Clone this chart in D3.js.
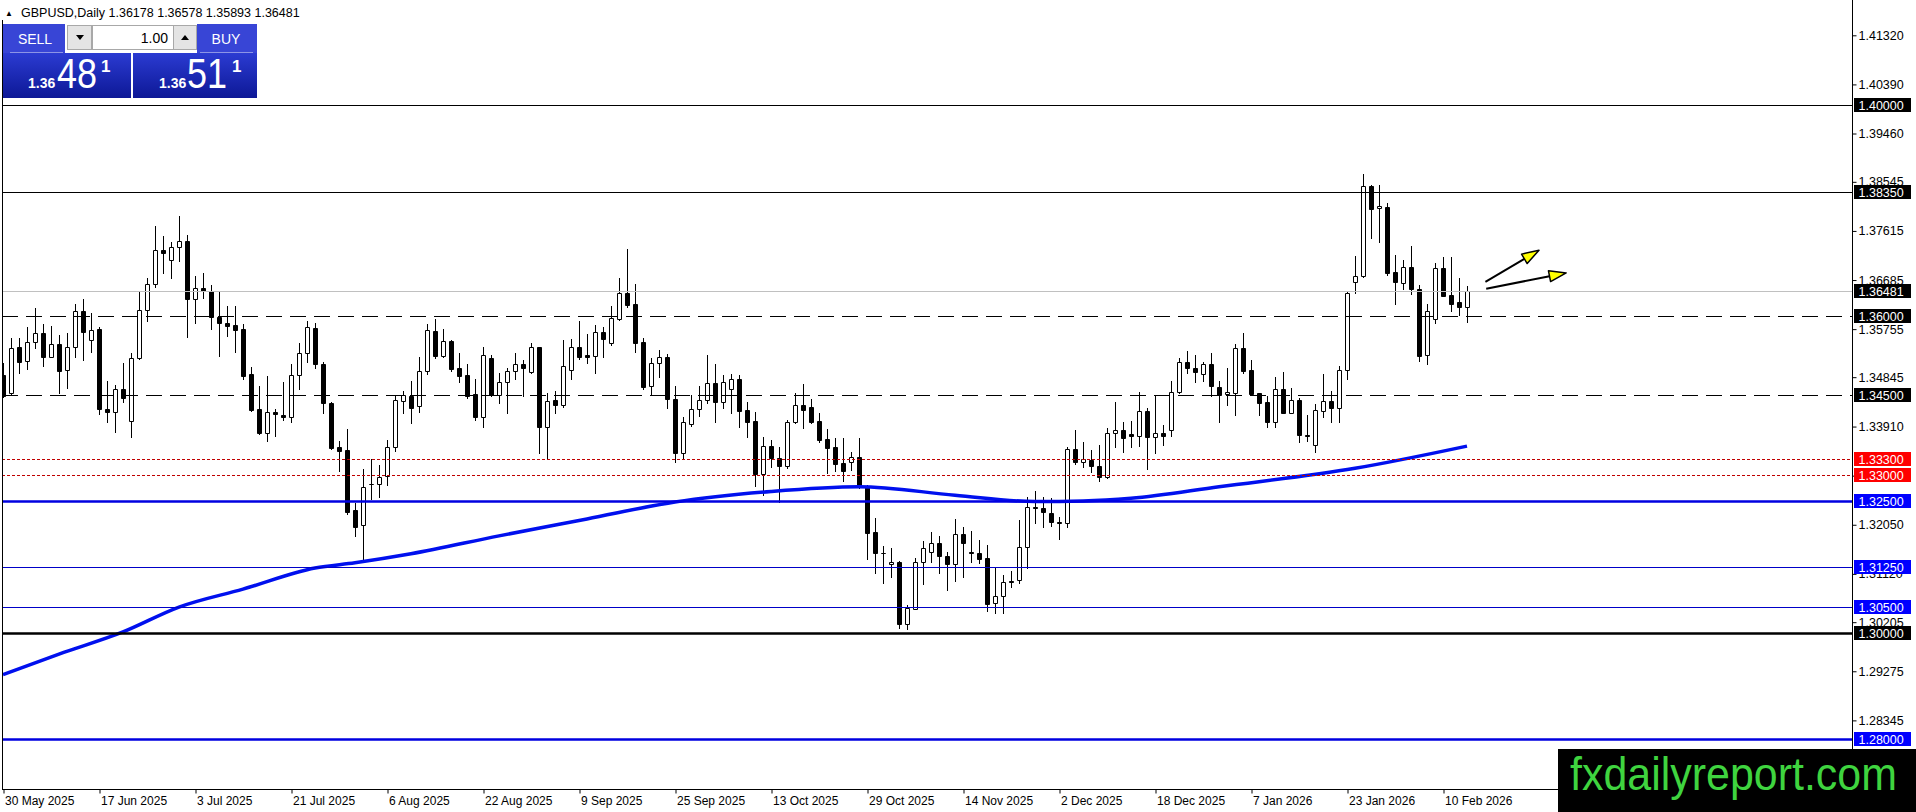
<!DOCTYPE html>
<html>
<head>
<meta charset="utf-8">
<script src="https://cdn.jsdelivr.net/npm/d3@7"></script>
<style>
html, body { margin: 0; padding: 0; background: #fff; overflow: hidden; }
svg { display: block; font-family: "Liberation Sans", Arial, sans-serif; }
</style>
</head>
<body>
<svg id="chart" width="1916" height="812"></svg>
<script>
// GBPUSD daily, MT4 style
const width = 1916;
const height = 812;

// daily bars
const opens = [1.3489,1.3454,1.3541,1.3515,1.3551,1.3568,1.3523,1.3547,1.3498,1.3541,1.3609,1.3554,1.3575,1.3424,1.3418,1.3463,1.3402,1.3520,1.3612,1.3661,
1.3725,1.3707,1.3731,1.3742,1.3632,1.3653,1.3648,1.3598,1.3588,1.3583,1.3575,1.3491,1.3424,1.3379,1.3418,1.3413,1.3410,1.3489,1.3530,1.3577,
1.3509,1.3435,1.3353,1.3347,1.3233,1.3204,1.3282,1.3282,1.3297,1.3353,1.3440,1.3449,1.3429,1.3496,1.3572,1.3525,1.3553,1.3501,1.3488,1.3452,
1.3410,1.3520,1.3450,1.3475,1.3496,1.3509,1.3495,1.3541,1.3391,1.3441,1.3431,1.3498,1.3541,1.3527,1.3525,1.3570,1.3550,1.3595,1.3643,1.3623,
1.3551,1.3467,1.3511,1.3523,1.3443,1.3340,1.3395,1.3424,1.3441,1.3473,1.3437,1.3463,1.3482,1.3422,1.3402,1.3301,1.3354,1.3331,1.3316,1.3399,
1.3432,1.3428,1.3402,1.3368,1.3353,1.3322,1.3323,1.3333,1.3277,1.3191,1.3152,1.3130,1.3135,1.3017,1.3046,1.3134,1.3154,1.3170,1.3146,1.3130,
1.3187,1.3153,1.3151,1.3142,1.3056,1.3070,1.3099,1.3100,1.3162,1.3239,1.3236,1.3227,1.3210,1.3208,1.3348,1.3323,1.3328,1.3317,1.3295,1.3378,
1.3385,1.3377,1.3374,1.3421,1.3372,1.3378,1.3385,1.3457,1.3514,1.3501,1.3490,1.3509,1.3465,1.3452,1.3454,1.3539,1.3498,1.3454,1.3437,1.3399,
1.3462,1.3417,1.3441,1.3375,1.3357,1.3421,1.3440,1.3426,1.3498,1.3664,1.3676,1.3847,1.3804,1.3806,1.3684,1.3662,1.3694,1.3651,1.3527,1.3594,
1.3691,1.3640,1.3626,1.36178];
const highs = [1.3511,1.3558,1.3558,1.3579,1.3615,1.3585,1.3581,1.3564,1.3568,1.3623,1.3632,1.3606,1.3579,1.3477,1.3470,1.3511,1.3531,1.3648,1.3672,1.3771,
1.3752,1.3741,1.3790,1.3754,1.3676,1.3681,1.3659,1.3645,1.3619,1.3619,1.3585,1.3503,1.3468,1.3487,1.3424,1.3476,1.3509,1.3549,1.3590,1.3588,
1.3513,1.3438,1.3364,1.3386,1.3246,1.3310,1.3330,1.3318,1.3366,1.3451,1.3459,1.3477,1.3522,1.3585,1.3594,1.3575,1.3554,1.3530,1.3509,1.3482,
1.3542,1.3527,1.3492,1.3501,1.3530,1.3517,1.3549,1.3542,1.3454,1.3458,1.3555,1.3556,1.3591,1.3566,1.3583,1.3579,1.3619,1.3672,1.3727,1.3661,
1.3558,1.3520,1.3536,1.3529,1.3467,1.3410,1.3451,1.3468,1.3527,1.3510,1.3489,1.3490,1.3489,1.3437,1.3419,1.3371,1.3366,1.3353,1.3404,1.3454,
1.3472,1.3443,1.3417,1.3386,1.3369,1.3369,1.3343,1.3369,1.3280,1.3217,1.3165,1.3161,1.3137,1.3053,1.3142,1.3174,1.3191,1.3183,1.3154,1.3216,
1.3200,1.3193,1.3176,1.3167,1.3124,1.3110,1.3118,1.3214,1.3257,1.3268,1.3258,1.3255,1.3220,1.3352,1.3385,1.3361,1.3347,1.3356,1.3388,1.3438,
1.3400,1.3402,1.3457,1.3426,1.3448,1.3394,1.3477,1.3520,1.3534,1.3527,1.3514,1.3530,1.3478,1.3501,1.3547,1.3568,1.3517,1.3455,1.3449,1.3484,
1.3495,1.3464,1.3445,1.3413,1.3433,1.3491,1.3459,1.3506,1.3645,1.3714,1.3869,1.3849,1.3849,1.3814,1.3715,1.3707,1.3733,1.3659,1.3623,1.3700,
1.3712,1.3712,1.3672,1.36578];
const lows = [1.3447,1.3450,1.3492,1.3500,1.3540,1.3506,1.3522,1.3455,1.3464,1.3522,1.3517,1.3533,1.3414,1.3400,1.3381,1.3438,1.3371,1.3519,1.3590,1.3655,
1.3682,1.3673,1.3705,1.3561,1.3587,1.3634,1.3575,1.3525,1.3563,1.3533,1.3481,1.3421,1.3377,1.3364,1.3374,1.3403,1.3400,1.3462,1.3514,1.3501,
1.3416,1.3348,1.3306,1.3225,1.3184,1.3141,1.3253,1.3258,1.3280,1.3345,1.3417,1.3398,1.3419,1.3491,1.3520,1.3523,1.3496,1.3476,1.3446,1.3403,
1.3390,1.3448,1.3435,1.3416,1.3482,1.3448,1.3493,1.3340,1.3332,1.3416,1.3428,1.3481,1.3518,1.3512,1.3493,1.3523,1.3546,1.3593,1.3618,1.3533,
1.3462,1.3451,1.3485,1.3426,1.3323,1.3331,1.3392,1.3411,1.3435,1.3400,1.3427,1.3416,1.3391,1.3371,1.3279,1.3261,1.3314,1.3248,1.3313,1.3397,
1.3389,1.3397,1.3362,1.3303,1.3307,1.3287,1.3309,1.3275,1.3140,1.3114,1.3095,1.3107,1.3009,1.3008,1.3045,1.3093,1.3135,1.3114,1.3082,1.3099,
1.3107,1.3135,1.3132,1.3042,1.3037,1.3037,1.3088,1.3094,1.3123,1.3209,1.3200,1.3203,1.3178,1.3201,1.3320,1.3315,1.3304,1.3287,1.3294,1.3353,
1.3342,1.3353,1.3354,1.3310,1.3340,1.3356,1.3373,1.3454,1.3492,1.3476,1.3478,1.3449,1.3400,1.3432,1.3413,1.3492,1.3451,1.3413,1.3391,1.3390,
1.3417,1.3417,1.3362,1.3364,1.3342,1.3410,1.3400,1.3400,1.3481,1.3643,1.3675,1.3749,1.3741,1.3678,1.3623,1.3651,1.3642,1.3516,1.3510,1.3587,
1.3638,1.3609,1.3602,1.35893];
const closes = [1.3449,1.3540,1.3514,1.3551,1.3568,1.3523,1.3547,1.3497,1.3542,1.3609,1.3571,1.3573,1.3424,1.3418,1.3463,1.3446,1.3520,1.3611,1.3661,1.3725,
1.3719,1.3731,1.3742,1.3632,1.3653,1.3648,1.3598,1.3588,1.3582,1.3574,1.3487,1.3422,1.3378,1.3418,1.3414,1.3409,1.3489,1.3531,1.3579,1.3509,
1.3436,1.3351,1.3345,1.3230,1.3201,1.3277,1.3283,1.3296,1.3352,1.3441,1.3450,1.3427,1.3496,1.3574,1.3525,1.3553,1.3500,1.3487,1.3449,1.3410,
1.3527,1.3450,1.3475,1.3496,1.3509,1.3501,1.3541,1.3391,1.3440,1.3431,1.3506,1.3541,1.3523,1.3523,1.3570,1.3556,1.3596,1.3643,1.3621,1.3550,
1.3465,1.3511,1.3522,1.3443,1.3340,1.3400,1.3424,1.3441,1.3473,1.3437,1.3475,1.3482,1.3421,1.3400,1.3301,1.3355,1.3331,1.3316,1.3399,1.3432,
1.3422,1.3400,1.3366,1.3351,1.3321,1.3307,1.3333,1.3277,1.3190,1.3151,1.3151,1.3135,1.3017,1.3047,1.3134,1.3161,1.3170,1.3145,1.3130,1.3187,
1.3170,1.3151,1.3141,1.3054,1.3070,1.3096,1.3097,1.3162,1.3238,1.3237,1.3230,1.3210,1.3209,1.3348,1.3323,1.3330,1.3317,1.3295,1.3378,1.3385,
1.3369,1.3374,1.3421,1.3372,1.3378,1.3374,1.3457,1.3514,1.3501,1.3495,1.3509,1.3467,1.3451,1.3456,1.3539,1.3497,1.3453,1.3436,1.3400,1.3462,
1.3417,1.3441,1.3375,1.3374,1.3422,1.3440,1.3426,1.3498,1.3643,1.3676,1.3847,1.3803,1.3809,1.3682,1.3664,1.3694,1.3651,1.3525,1.3609,1.3691,
1.3639,1.3624,1.3618,1.36481];

// moving average, sampled along the blue curve (bar index, price)
const maIdx = [0, 7, 15, 22, 30, 39, 44, 51, 62, 73, 84, 96, 107, 119, 129, 135, 141, 152, 169, 183];
const maVal = [1.2921, 1.2960, 1.3002, 1.3049, 1.3083, 1.3123, 1.3133, 1.3150, 1.3184, 1.3216, 1.3248, 1.3268, 1.3277, 1.3261, 1.3249, 1.3250, 1.3255, 1.3277, 1.3312, 1.3354];

// time axis labels, every 12th bar
const dateTickIdx = [0, 12, 24, 36, 48, 60, 72, 84, 96, 108, 120, 132, 144, 156, 168, 180];
const dateLabels = ["30 May 2025", "17 Jun 2025", "3 Jul 2025", "21 Jul 2025", "6 Aug 2025", "22 Aug 2025",
  "9 Sep 2025", "25 Sep 2025", "13 Oct 2025", "29 Oct 2025", "14 Nov 2025", "2 Dec 2025",
  "18 Dec 2025", "7 Jan 2026", "23 Jan 2026", "10 Feb 2026"];

// price scale labels
const priceTicks = [1.41320, 1.40390, 1.39460, 1.38545, 1.37615, 1.36685, 1.35755, 1.34845,
  1.33910, 1.32980, 1.32050, 1.31120, 1.30205, 1.29275, 1.28345];

// horizontal levels drawn on the chart
const levelPrices = [1.40000, 1.38350, 1.36000, 1.34500, 1.33300, 1.33000, 1.32500, 1.31250, 1.30500, 1.30000, 1.28000];
const levelKinds = ["solid", "solid", "dash", "dash", "dot", "dot", "blueThick", "blue", "blue", "solidThick", "blueThick"];
const bidPrice = 1.36481;

// hand drawn arrows: [bar index, price] start and end
const arrowFrom = [[185.3, 1.3665], [185.4, 1.3652]];
const arrowTo = [[192.0, 1.3725], [195.4, 1.3682]];

const kindStyle = {
  solid:      { stroke: "#000", width: 1, dash: null, box: "#000" },
  solidThick: { stroke: "#000", width: 2.5, dash: null, box: "#000" },
  dash:       { stroke: "#000", width: 1, dash: "16,8", box: "#000" },
  dot:        { stroke: "#c00000", width: 1, dash: "3,2", box: "#ff0000" },
  blue:       { stroke: "#0000c8", width: 1, dash: null, box: "#0000ff" },
  blueThick:  { stroke: "#0000e0", width: 2.5, dash: null, box: "#0000ff" }
};

const plotLeft = 2, plotRight = 1852, plotBottom = 789;

const x = d3.scaleLinear().domain([0, 183]).range([3, 1467]);
const y = d3.scaleLinear().domain([1.30, 1.40]).range([633, 105]);

const svg = d3.select("#chart");
svg.append("rect").attr("width", width).attr("height", height).attr("fill", "#fff");

const defs = svg.append("defs");
defs.append("clipPath").attr("id", "plot")
  .append("rect").attr("x", plotLeft).attr("y", 0)
  .attr("width", plotRight - plotLeft).attr("height", plotBottom);

const grad = defs.append("linearGradient").attr("id", "priceGrad")
  .attr("x1", 0).attr("y1", 0).attr("x2", 0).attr("y2", 1);
grad.append("stop").attr("offset", "0%").attr("stop-color", "#2b3bd2");
grad.append("stop").attr("offset", "100%").attr("stop-color", "#0d1896");

const plot = svg.append("g").attr("clip-path", "url(#plot)");

// candles
const bars = d3.range(opens.length);
const candle = plot.append("g");
bars.forEach(i => {
  const cx = Math.round(x(i));
  const bull = closes[i] >= opens[i];
  candle.append("line")
    .attr("x1", cx + 0.5).attr("x2", cx + 0.5)
    .attr("y1", Math.round(y(highs[i]))).attr("y2", Math.round(y(lows[i])) + 1)
    .attr("stroke", "#000").attr("stroke-width", 1);
  const yt = Math.round(y(Math.max(opens[i], closes[i]))) + 0.5;
  const yb = Math.round(y(Math.min(opens[i], closes[i]))) + 0.5;
  candle.append("path")
    .attr("d", `M${cx - 1.5},${yt}H${cx + 2.5}V${yb}H${cx - 1.5}Z`)
    .attr("fill", bull ? "#fff" : "#000")
    .attr("stroke", "#000").attr("stroke-width", 1);
});

// moving average
const maLine = d3.line()
  .x(d => x(d[0]))
  .y(d => y(d[1]))
  .curve(d3.curveMonotoneX);
plot.append("path")
  .datum(maIdx.map((d, i) => [d, maVal[i]]))
  .attr("d", maLine)
  .attr("fill", "none")
  .attr("stroke", "#0010ee")
  .attr("stroke-width", 3.5);

// bid line
plot.append("line")
  .attr("x1", plotLeft).attr("x2", plotRight)
  .attr("y1", Math.round(y(bidPrice)) + 0.5).attr("y2", Math.round(y(bidPrice)) + 0.5)
  .attr("stroke", "#c0c0c0").attr("stroke-width", 1);

// levels
levelPrices.forEach((p, i) => {
  const st = kindStyle[levelKinds[i]];
  const yy = Math.round(y(p)) + 0.5;
  plot.append("line")
    .attr("x1", plotLeft).attr("x2", plotRight)
    .attr("y1", yy).attr("y2", yy)
    .attr("stroke", st.stroke)
    .attr("stroke-width", st.width)
    .attr("stroke-dasharray", st.dash);
});

// arrows
arrowFrom.forEach((a, i) => {
  const x1 = x(a[0]), y1 = y(a[1]);
  const x2 = x(arrowTo[i][0]), y2 = y(arrowTo[i][1]);
  const ang = Math.atan2(y2 - y1, x2 - x1);
  const len = 17, half = 5.5;
  const bx = x2 - len * Math.cos(ang), by = y2 - len * Math.sin(ang);
  svg.append("line")
    .attr("x1", x1).attr("y1", y1).attr("x2", bx).attr("y2", by)
    .attr("stroke", "#000").attr("stroke-width", 2);
  const pts = [
    [x2, y2],
    [bx + half * Math.sin(ang), by - half * Math.cos(ang)],
    [bx - half * Math.sin(ang), by + half * Math.cos(ang)]
  ];
  svg.append("polygon")
    .attr("points", pts.map(p => p.join(",")).join(" "))
    .attr("fill", "#ffff00").attr("stroke", "#000").attr("stroke-width", 1.5)
    .attr("stroke-linejoin", "round");
});

// frame
svg.append("line").attr("x1", plotLeft + 0.5).attr("x2", plotLeft + 0.5)
  .attr("y1", 20).attr("y2", plotBottom).attr("stroke", "#000");
svg.append("line").attr("x1", plotLeft).attr("x2", plotRight)
  .attr("y1", plotBottom + 0.5).attr("y2", plotBottom + 0.5).attr("stroke", "#000");
svg.append("line").attr("x1", plotRight + 0.5).attr("x2", plotRight + 0.5)
  .attr("y1", 0).attr("y2", plotBottom).attr("stroke", "#000");

// time axis
const xAxis = svg.append("g")
  .attr("transform", `translate(0.5,${plotBottom + 0.5})`)
  .call(d3.axisBottom(x).tickValues(dateTickIdx).tickFormat((d, i) => dateLabels[i]).tickSize(4).tickSizeOuter(0));
xAxis.select(".domain").remove();
xAxis.selectAll("text")
  .attr("text-anchor", "start").attr("x", 1).attr("y", 7)
  .style("font-family", "Liberation Sans, Arial, sans-serif")
  .style("font-size", "12px").attr("fill", "#000");

// price axis
const yAxis = svg.append("g")
  .attr("transform", `translate(${plotRight + 0.5},0)`)
  .call(d3.axisRight(y).tickValues(priceTicks).tickFormat(d3.format(".5f")).tickSize(4).tickSizeOuter(0));
yAxis.select(".domain").remove();
yAxis.selectAll("text")
  .attr("x", 6)
  .style("font-family", "Liberation Sans, Arial, sans-serif")
  .style("font-size", "12.5px").attr("fill", "#000");

// level price boxes on the scale
const boxes = svg.append("g");
const boxPrices = levelPrices.concat([bidPrice]);
const boxColors = levelKinds.map(k => kindStyle[k].box).concat(["#000"]);
boxPrices.forEach((p, i) => {
  const yy = Math.round(y(p));
  boxes.append("rect")
    .attr("x", plotRight + 2).attr("y", yy - 7)
    .attr("width", 57).attr("height", 14)
    .attr("fill", boxColors[i]);
  boxes.append("text")
    .attr("x", plotRight + 6.5).attr("y", yy)
    .attr("dy", "0.36em")
    .attr("fill", "#fff")
    .style("font-size", "12.5px")
    .text(d3.format(".5f")(p));
});

// header
svg.append("text").attr("x", 5).attr("y", 16)
  .style("font-size", "8px").text("\u25B2");
svg.append("text").attr("x", 21).attr("y", 17)
  .style("font-size", "12.5px").attr("fill", "#000")
  .text("GBPUSD,Daily  1.36178 1.36578 1.35893 1.36481");

// one click trading panel
const panel = svg.append("g");
panel.append("rect").attr("x", 3).attr("y", 24).attr("width", 62).attr("height", 29).attr("fill", "#3845d6");
panel.append("rect").attr("x", 197).attr("y", 24).attr("width", 60).attr("height", 29).attr("fill", "#3845d6");
panel.append("rect").attr("x", 3).attr("y", 53).attr("width", 128).attr("height", 45).attr("fill", "url(#priceGrad)");
panel.append("rect").attr("x", 133).attr("y", 53).attr("width", 124).attr("height", 45).attr("fill", "url(#priceGrad)");
panel.append("line").attr("x1", 10).attr("x2", 63).attr("y1", 52.5).attr("y2", 52.5).attr("stroke", "#8c94e6");
panel.append("line").attr("x1", 200).attr("x2", 253).attr("y1", 52.5).attr("y2", 52.5).attr("stroke", "#8c94e6");
panel.append("rect").attr("x", 67.5).attr("y", 25.5).attr("width", 24).attr("height", 24).attr("fill", "#e4e4e4").attr("stroke", "#a8a8a8");
panel.append("rect").attr("x", 92.5).attr("y", 25.5).attr("width", 81).attr("height", 24).attr("fill", "#fff").attr("stroke", "#a8a8a8");
panel.append("rect").attr("x", 173.5).attr("y", 25.5).attr("width", 23).attr("height", 24).attr("fill", "#e4e4e4").attr("stroke", "#a8a8a8");
panel.append("path").attr("d", "M76,35H84L80,40Z").attr("fill", "#000");
panel.append("path").attr("d", "M181,40H189L185,35Z").attr("fill", "#000");
panel.append("text").attr("x", 168).attr("y", 43).attr("text-anchor", "end")
  .style("font-size", "14px").text("1.00");
panel.append("text").attr("x", 35).attr("y", 44).attr("text-anchor", "middle")
  .attr("fill", "#fff").style("font-size", "14px").text("SELL");
panel.append("text").attr("x", 226).attr("y", 44).attr("text-anchor", "middle")
  .attr("fill", "#fff").style("font-size", "14px").text("BUY");

const quotes = [
  { x0: 28, big: "48", bx: 57, sx: 101 },
  { x0: 159, big: "51", bx: 187, sx: 232 }
];
quotes.forEach(q => {
  panel.append("text").attr("x", q.x0).attr("y", 88)
    .attr("fill", "#fff").style("font-size", "14px").style("font-weight", "bold").text("1.36");
  panel.append("text").attr("x", q.bx).attr("y", 88)
    .attr("fill", "#fff").style("font-size", "42px")
    .attr("textLength", 40).attr("lengthAdjust", "spacingAndGlyphs").text(q.big);
  panel.append("text").attr("x", q.sx).attr("y", 72)
    .attr("fill", "#fff").style("font-size", "17px").style("font-weight", "bold").text("1");
});

// watermark
svg.append("rect").attr("x", 1558).attr("y", 749).attr("width", 358).attr("height", 63).attr("fill", "#000");
svg.append("text").attr("x", 1570).attr("y", 790)
  .attr("fill", "#3fd43f").style("font-size", "46px")
  .attr("textLength", 327).attr("lengthAdjust", "spacingAndGlyphs")
  .text("fxdailyreport.com");
</script>
</body>
</html>
